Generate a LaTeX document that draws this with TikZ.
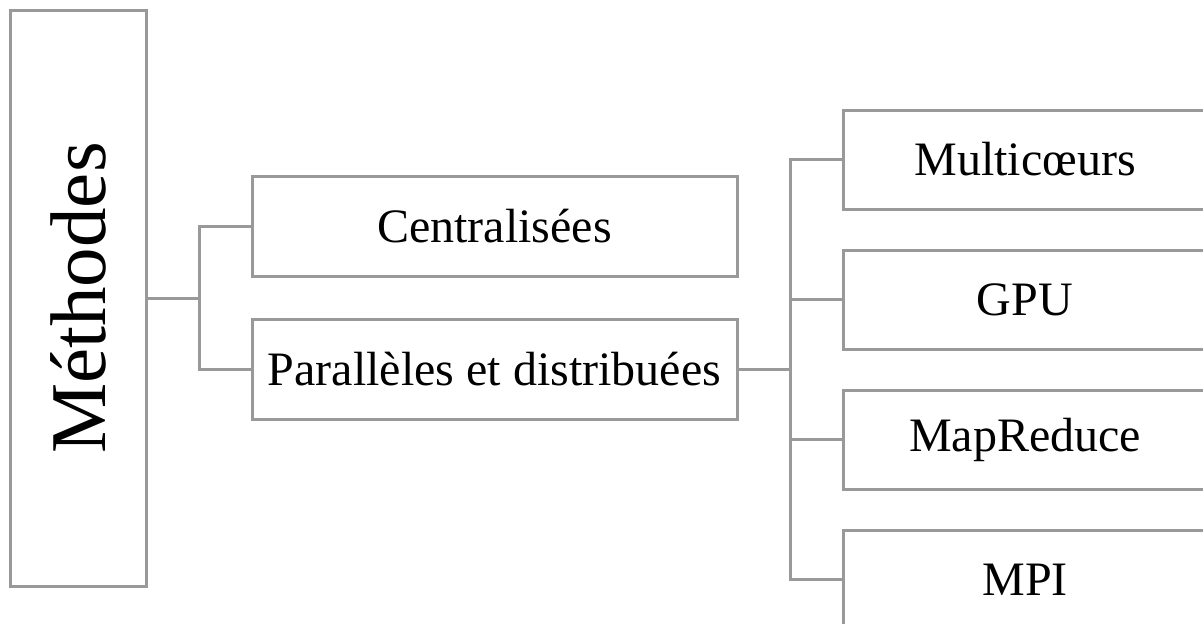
\documentclass[tikz,border=0pt]{standalone}
\usepackage{fontspec}
\setmainfont{Liberation Serif}
\definecolor{linegray}{RGB}{153,153,153}
\begin{document}
\begin{tikzpicture}[x=1pt,y=-1pt,
  box/.style={draw=linegray, line width=3pt, rectangle, inner sep=0pt,
    font=\fontsize{48}{56}\selectfont},
  leftbox/.style={box, minimum width=485pt, minimum height=100pt},
  rightbox/.style={box, minimum width=364pt, minimum height=99pt},
  conn/.style={draw=linegray, line width=3pt}]
\useasboundingbox (0,0) rectangle (1203,624);
\clip (0,0) rectangle (1203,624);
% root
\node[box, minimum width=136pt, minimum height=576pt,
  label={[rotate=90, font=\fontsize{79}{90}\selectfont]center:Méthodes}] (m) at (78,298) {};
% second level
\node[leftbox] (c) at (494.5,226) {Centralisées};
\node[leftbox] (p) at (494.5,369) {Parallèles et distribuées};
% third level
\node[rightbox] (mc) at (1025,159.5) {Multicœurs};
\node[rightbox] (gpu) at (1025,299.5) {GPU};
\node[rightbox] (mr) at (1025,439.5) {MapReduce};
\node[rightbox] (mpi) at (1025,579.5) {MPI};
% connectors
\coordinate (j1) at (199,298);
\draw[conn] (m.east) -- (j1);
\draw[conn] (c.west) -| (j1) |- (p.west);
\coordinate (j2) at (790,369);
\draw[conn] (p.east) -- (j2);
\draw[conn] (mc.west) -| (j2) |- (mpi.west);
\draw[conn] (gpu.west -| j2) -- (gpu.west);
\draw[conn] (mr.west -| j2) -- (mr.west);
\end{tikzpicture}
\end{document}
